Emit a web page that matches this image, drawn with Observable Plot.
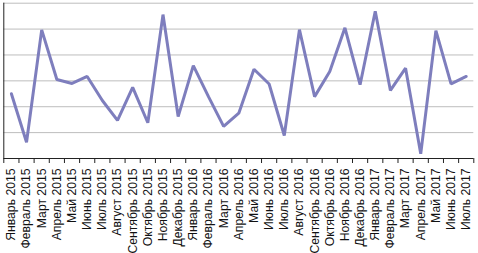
<!DOCTYPE html>
<html><head><meta charset="utf-8">
<script src="https://cdn.jsdelivr.net/npm/d3@7"></script>
<script src="https://cdn.jsdelivr.net/npm/@observablehq/plot@0.6"></script>
<style>
html,body{margin:0;padding:0;background:#fff;}
#chart svg{display:block;}
</style>
</head><body><div id="chart"></div>
<script>
const months = ["Январь 2015","Февраль 2015","Март 2015","Апрель 2015","Май 2015","Июнь 2015","Июль 2015","Август 2015","Сентябрь 2015","Октябрь 2015","Ноябрь 2015","Декабрь 2015","Январь 2016","Февраль 2016","Март 2016","Апрель 2016","Май 2016","Июнь 2016","Июль 2016","Август 2016","Сентябрь 2016","Октябрь 2016","Ноябрь 2016","Декабрь 2016","Январь 2017","Февраль 2017","Март 2017","Апрель 2017","Май 2017","Июнь 2017","Июль 2017"];
const values = [25.0,6.3,49.7,30.5,29.0,31.7,22.4,14.7,27.5,13.8,55.6,16.2,35.9,23.9,12.4,17.5,34.5,28.8,8.9,49.8,23.9,33.6,50.5,28.5,56.9,26.3,34.9,1.8,49.4,28.8,31.7];
const gridTicks = [10,20,30,40,50,60];

const data = months.map((m,i)=>({i, month:m, value:values[i]}));
const idx = d3.range(months.length);
const bounds = d3.range(months.length+1).map(i=>i-0.5);

const chart = Plot.plot({
  width: 478, height: 253,
  marginLeft: 3.3, marginRight: 4.7, marginTop: 2.7, marginBottom: 95,
  style: {fontFamily: "'Liberation Sans', Arial, sans-serif", fontSize: "12.2px", color: "#000", background: "#fff"},
  x: {type: "linear", domain: [-0.5, months.length-0.5]},
  y: {domain: [0, 60]},
  marks: [
    Plot.gridY(gridTicks, {stroke: "#bdbdbd", strokeOpacity: 1, strokeWidth: 1}),
    Plot.axisY({ticks: [], label: null}),
    Plot.ruleY([0], {stroke: "#222", strokeWidth: 1}),
    Plot.ruleX([-0.5], {stroke: "#222", strokeWidth: 1}),
    Plot.axisX({ticks: bounds, tickFormat: null, text: null, tickSize: 5, stroke: "#222", label: null}),
    Plot.axisX({ticks: idx, tickFormat: i => months[i], tickSize: 0, tickPadding: 10, tickRotate: -90, label: null, fill: "#111", fontSize: 12.2}),
    Plot.line(data, {x: "i", y: "value", stroke: "#7e7ebd", strokeWidth: 3, strokeLinejoin: "miter"})
  ]
});
document.getElementById("chart").appendChild(chart);
</script>
</body></html>
